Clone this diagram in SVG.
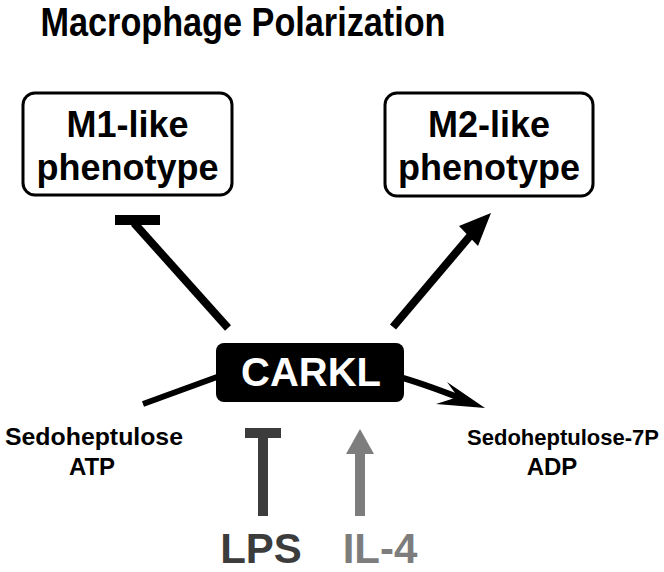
<svg xmlns="http://www.w3.org/2000/svg" width="664" height="572" viewBox="0 0 664 572">
<style>
text{font-family:"Liberation Sans",Arial,sans-serif;font-weight:bold;text-anchor:middle}
.box{fill:#fff;stroke:#000;stroke-width:3}
.lbl{font-size:36px;fill:#000}
.met{font-size:24px;fill:#000}
.blk{stroke:#000;fill:none;stroke-linecap:butt}
</style>
<rect width="664" height="572" fill="#fff"/>
<text x="243" y="36" font-size="41" textLength="405" lengthAdjust="spacingAndGlyphs">Macrophage Polarization</text>
<g id="m1">
<rect class="box" x="23" y="93" width="209" height="102" rx="12"/>
<text class="lbl" x="127.5" y="137">M1-like</text>
<text class="lbl" x="127.5" y="180">phenotype</text>
</g>
<g id="m2">
<rect class="box" x="385" y="93" width="208" height="103" rx="12"/>
<text class="lbl" x="489" y="137">M2-like</text>
<text class="lbl" x="489" y="180">phenotype</text>
</g>
<g id="carkl">
<rect x="216" y="343" width="188" height="59" rx="8" fill="#000"/>
<text x="311" y="386" font-size="40" fill="#fff">CARKL</text>
</g>
<g id="substrates">
<text class="met" x="94" y="445" textLength="178" lengthAdjust="spacingAndGlyphs">Sedoheptulose</text>
<text class="met" x="92" y="475">ATP</text>
</g>
<g id="products">
<text x="563" y="445" font-size="22" fill="#000">Sedoheptulose-7P</text>
<text class="met" x="552" y="475">ADP</text>
</g>
<g id="lps">
<text x="261" y="563" font-size="42" fill="#3c3c3c">LPS</text>
</g>
<g id="il4">
<text x="380" y="563" font-size="42" fill="#7d7d7d">IL-4</text>
</g>
<g id="connectors">
<line class="blk" x1="228" y1="328" x2="134" y2="223" stroke-width="8"/>
<rect x="115" y="215" width="45" height="10" fill="#000"/>
<line class="blk" x1="393" y1="327" x2="470" y2="236" stroke-width="8"/>
<polygon points="491,213 459,226 478,246" fill="#000"/>
<line class="blk" x1="143" y1="404" x2="217" y2="377" stroke-width="6"/>
<path class="blk" d="M403,378 Q430,386 470,402" stroke-width="6"/>
<polygon points="485,408 447,382 458,397 436,404" fill="#000"/>
<rect x="245" y="428" width="36" height="10" fill="#3c3c3c"/>
<rect x="258" y="437" width="10" height="79" fill="#3c3c3c"/>
<rect x="355" y="453" width="10" height="63" fill="#7d7d7d"/>
<polygon points="360,429 346,454 374,454" fill="#7d7d7d"/>
</g>
</svg>
